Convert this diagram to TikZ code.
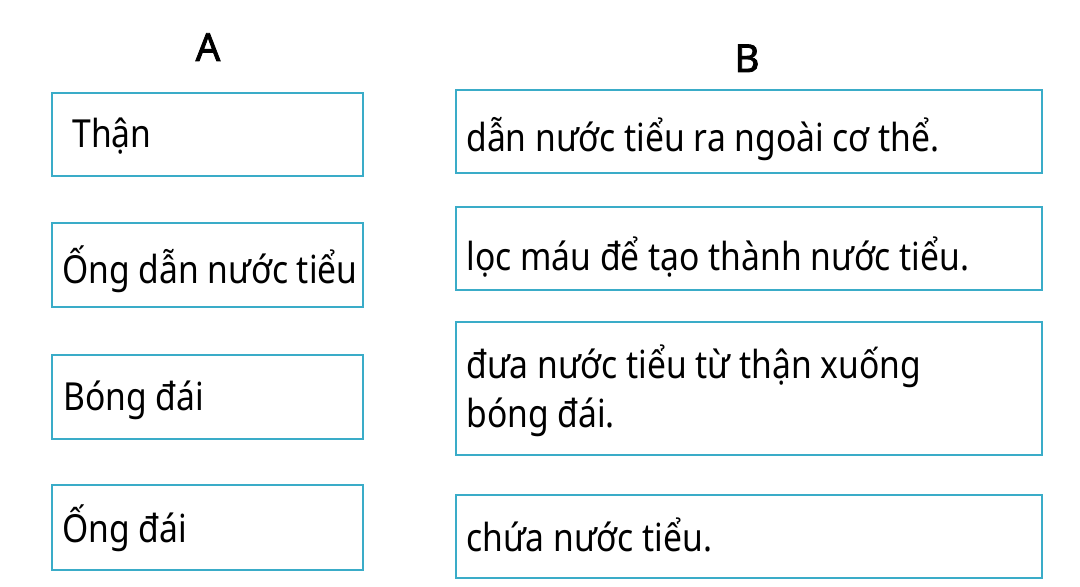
\documentclass[tikz,border=0pt]{standalone}
\usepackage{fontspec}
\setmainfont[FakeStretch=0.87]{Noto Sans}
\newfontfamily\headfont[FakeBold=2]{Noto Sans}
\definecolor{boxcyan}{RGB}{58,172,200}
\tikzset{
  box/.style={draw=boxcyan, line width=1.7pt},
  txt/.style={anchor=base west, inner sep=0pt, font=\fontsize{22}{28.2}\selectfont},
  head/.style={anchor=base, inner sep=0pt, font=\headfont\fontsize{22}{26}\selectfont}
}
\begin{document}
\begin{tikzpicture}[x=0.02cm,y=-0.02cm]
\useasboundingbox (0,0) rectangle (1080,587);

% column heads
\node [head] (headA) at (208,61) {A};
\node [head] (headB) at (747,72) {B};

% column A
\draw [box] (52,93) rectangle (363,176);
\node [txt] (than) at (72,148) {Thận};
\draw [box] (52,223) rectangle (363,307);
\node [txt] (ongdan) at (62,284) {Ống dẫn nước tiểu};
\draw [box] (52,355) rectangle (363,439);
\node [txt] (bongdai) at (63,411) {Bóng đái};
\draw [box] (52,485) rectangle (363,570);
\node [txt] (ongdai) at (62,543) {Ống đái};

% column B
\draw [box] (456,90) rectangle (1042,173);
\node [txt] (danra) at (466,152) {dẫn nước tiểu ra ngoài cơ thể.};
\draw [box] (456,207) rectangle (1042,290);
\node [txt] (locmau) at (466,271) {lọc máu để tạo thành nước tiểu.};
\draw [box] (456,322) rectangle (1042,455);
\node [txt, align=left] (duanuoc) at (466,428) {đưa nước tiểu từ thận xuống\\bóng đái.};
\draw [box] (456,495) rectangle (1042,578);
\node [txt] (chua) at (466,552) {chứa nước tiểu.};

\end{tikzpicture}
\end{document}
